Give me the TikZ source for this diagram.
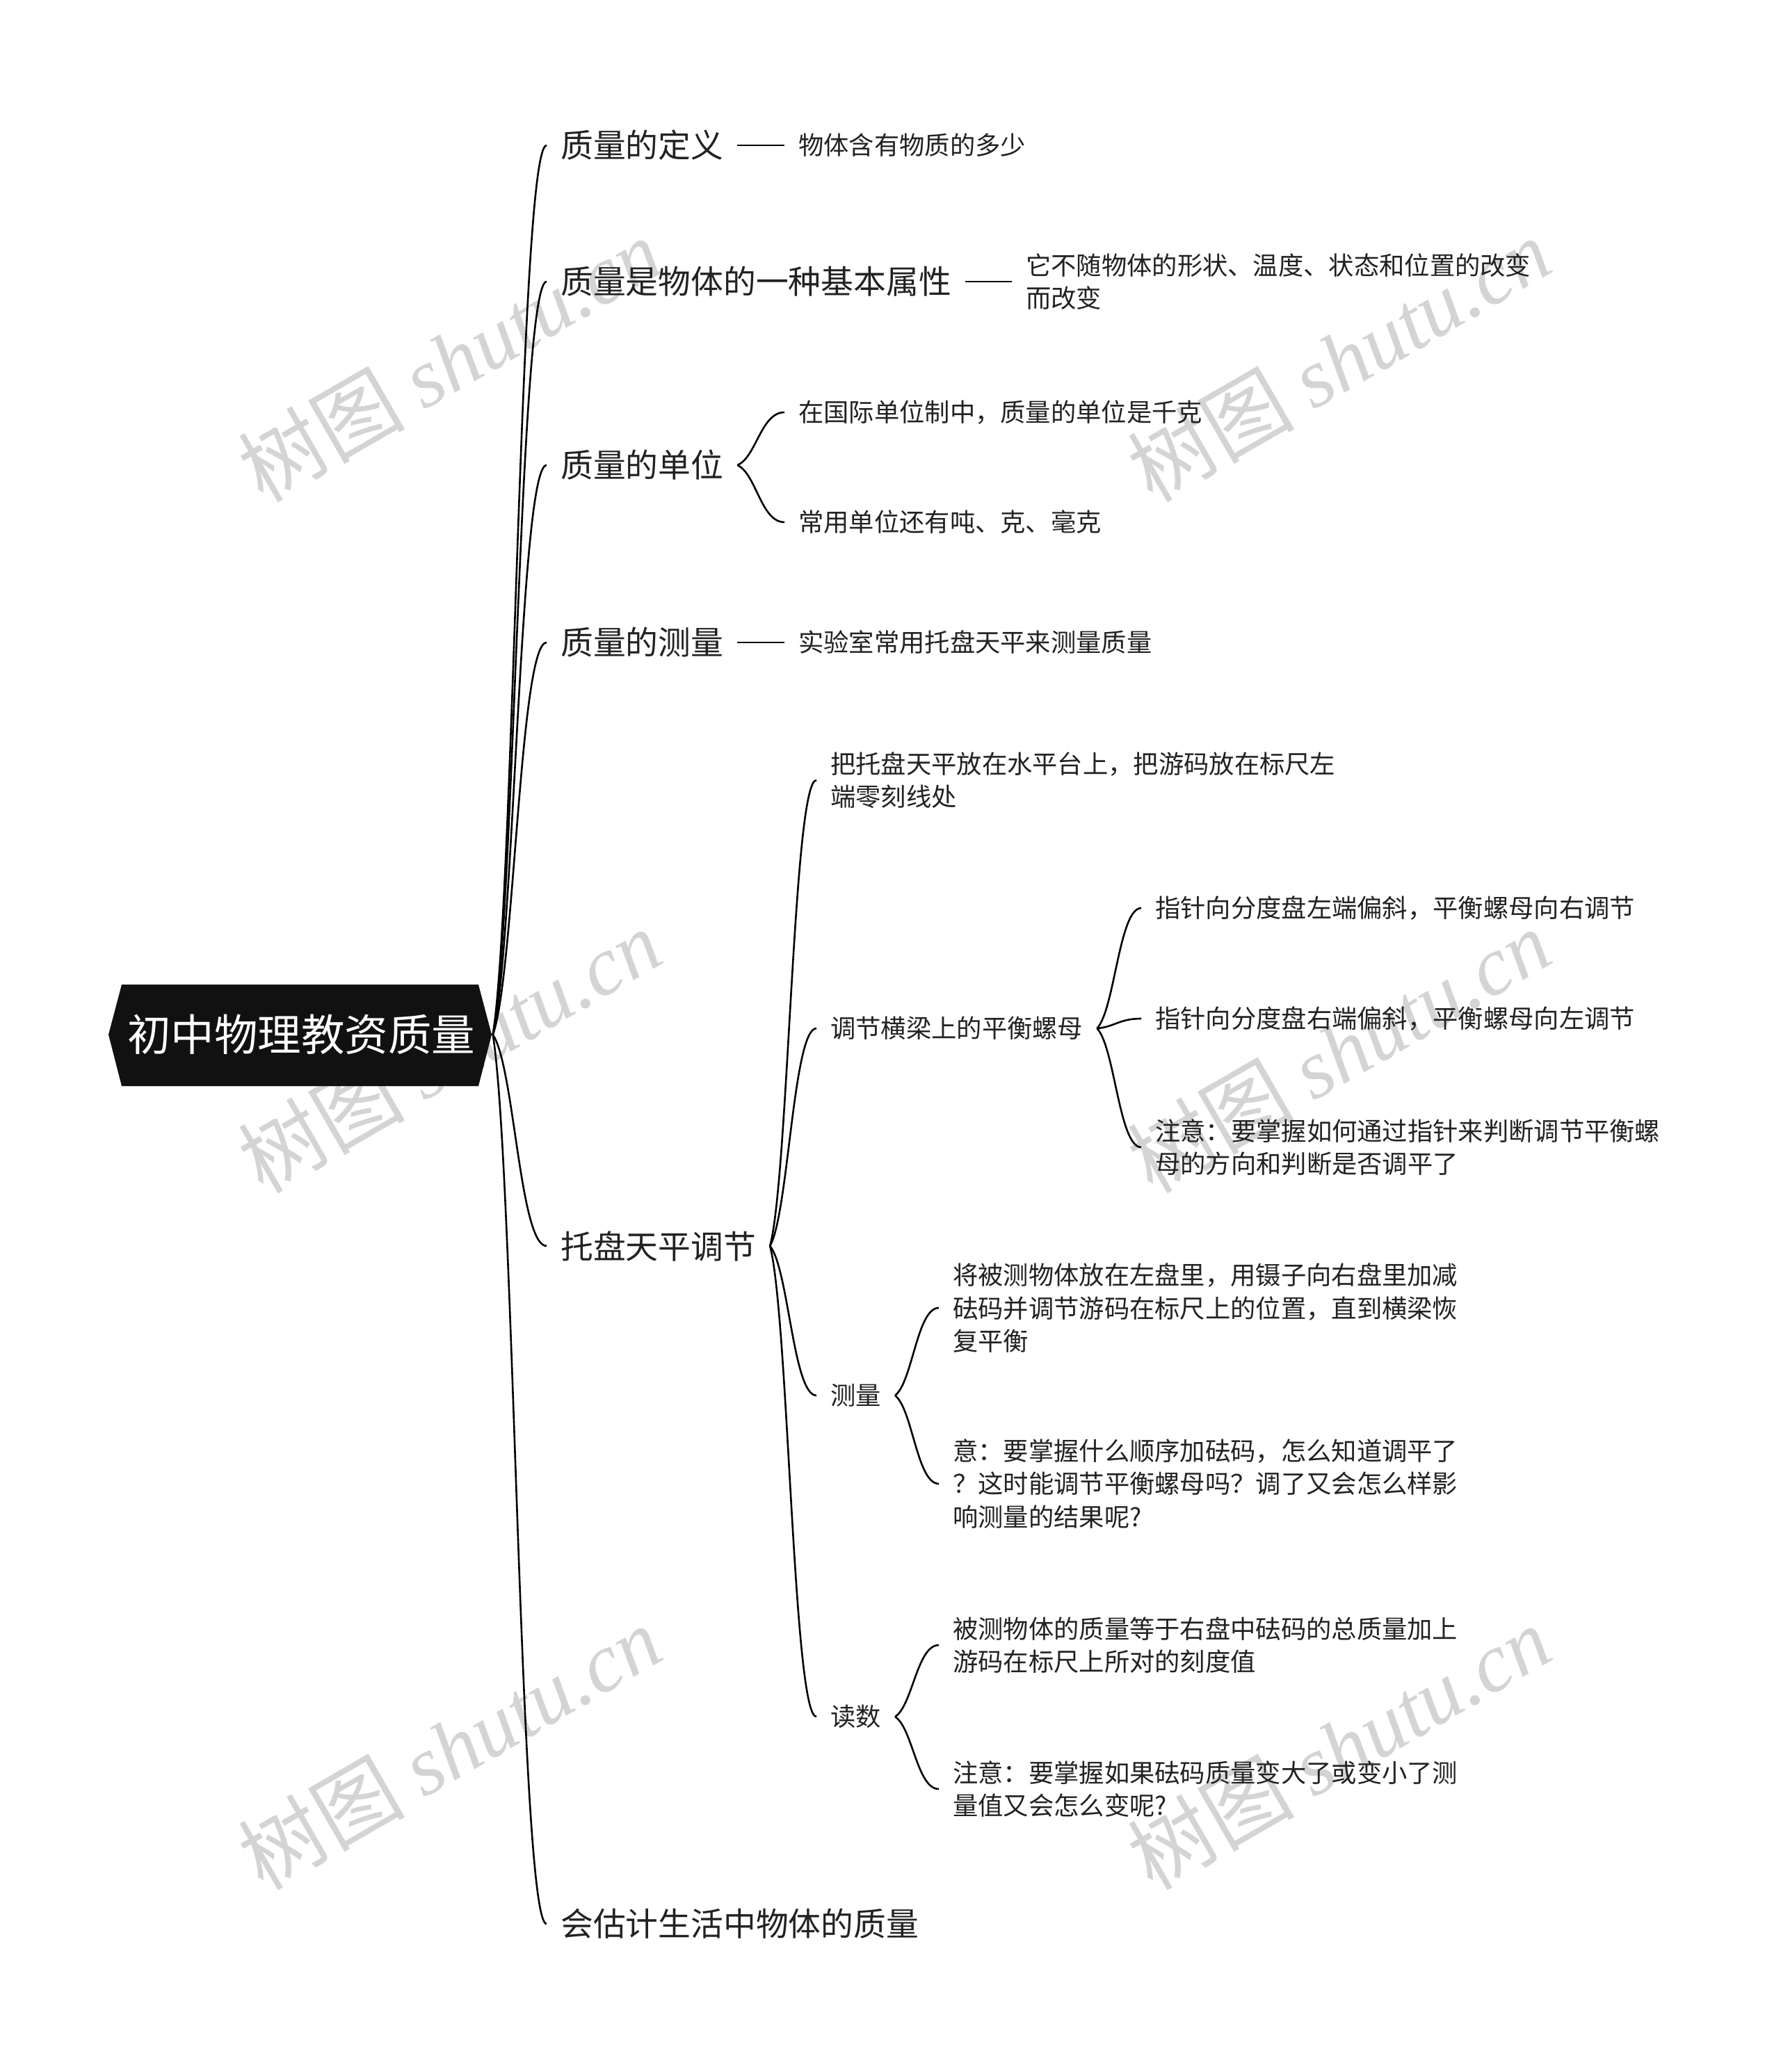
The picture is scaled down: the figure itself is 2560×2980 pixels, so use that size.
\documentclass[tikz,border=0pt]{standalone}
\usepackage{fontspec}
\setmainfont{Noto Sans CJK SC}
\newfontfamily\wmlatin{Liberation Serif}
\usetikzlibrary{calc}
\definecolor{rootfill}{HTML}{111111}
\definecolor{txt}{HTML}{222222}
\definecolor{wmgray}{HTML}{D4D4D4}
\tikzset{
  lk/.style={line width=2.6pt, draw=black},
  lone/.style={anchor=west, inner xsep=20pt, inner ysep=0pt, text=txt, font=\fontsize{46.8}{58}\selectfont},
  ltwo/.style={anchor=west, inner xsep=20pt, inner ysep=0pt, text=txt, align=left, font=\fontsize{36.3}{47.5}\selectfont},
  wm/.style={rotate=30, text=wmgray, inner sep=0pt, font=\fontsize{120}{130}\selectfont},
  curve/.style={to path={let \p1=(\tikztostart), \p2=(\tikztotarget) in
     .. controls ($(\p1)+(0.4*\x2-0.4*\x1, 0.15*\y2-0.15*\y1)$) and ($(\p2)+(0.5*\x1-0.5*\x2, 0)$) .. (\tikztotarget)}}
}
\begin{document}
\begin{tikzpicture}[x=1pt, y=-1pt]
\useasboundingbox[fill=white] (0,0) rectangle (2560,2980);

% watermarks
\node[wm] (w1) at (646,517) {树图 {\wmlatin\itshape shutu.cn}};
\node[wm] (w2) at (1925,517) {树图 {\wmlatin\itshape shutu.cn}};
\node[wm] (w3) at (646,1511) {树图 {\wmlatin\itshape shutu.cn}};
\node[wm] (w4) at (1925,1511) {树图 {\wmlatin\itshape shutu.cn}};
\node[wm] (w5) at (646,2513) {树图 {\wmlatin\itshape shutu.cn}};
\node[wm] (w6) at (1925,2513) {树图 {\wmlatin\itshape shutu.cn}};

% root
\fill[rootfill] (156,1488) -- (175,1416) -- (688,1416) -- (707,1488) -- (688,1562) -- (175,1562) -- cycle;
\node[minimum width=551pt, minimum height=146pt, inner sep=0pt, text=white, font=\fontsize{62.5}{70}\selectfont] (root) at (433,1488) {初中物理教资质量};

% level 1
\node[lone] (d1) at (786,209) {质量的定义};
\node[lone] (d2) at (786,405) {质量是物体的一种基本属性};
\node[lone] (d3) at (786,669) {质量的单位};
\node[lone] (d4) at (786,924) {质量的测量};
\node[lone] (d5) at (786,1792) {托盘天平调节};
\node[lone] (d6) at (786,2767) {会估计生活中物体的质量};

% level 2
\node[ltwo] (e1) at (1128,209) {物体含有物质的多少};
\node[ltwo] (e2) at (1455,405) {它不随物体的形状、温度、状态和位置的改变\\而改变};
\node[ltwo] (e3a) at (1128,593) {在国际单位制中，质量的单位是千克};
\node[ltwo] (e3b) at (1128,751) {常用单位还有吨、克、毫克};
\node[ltwo] (e4) at (1128,924) {实验室常用托盘天平来测量质量};
\node[ltwo] (f1) at (1174,1122) {把托盘天平放在水平台上，把游码放在标尺左\\端零刻线处};
\node[ltwo] (f2) at (1174,1479) {调节横梁上的平衡螺母};
\node[ltwo] (f3) at (1174,2007) {测量};
\node[ltwo] (f4) at (1174,2469) {读数};

% level 3
\node[ltwo] (g1) at (1641,1306) {指针向分度盘左端偏斜，平衡螺母向右调节};
\node[ltwo] (g2) at (1641,1465) {指针向分度盘右端偏斜，平衡螺母向左调节};
\node[ltwo] (g3) at (1641,1650) {注意：要掌握如何通过指针来判断调节平衡螺\\母的方向和判断是否调平了};
\node[ltwo] (h1) at (1350,1881) {将被测物体放在左盘里，用镊子向右盘里加减\\砝码并调节游码在标尺上的位置，直到横梁恢\\复平衡};
\node[ltwo] (h2) at (1350,2134) {意：要掌握什么顺序加砝码，怎么知道调平了\\？这时能调节平衡螺母吗？调了又会怎么样影\\响测量的结果呢?};
\node[ltwo] (i1) at (1350,2366) {被测物体的质量等于右盘中砝码的总质量加上\\游码在标尺上所对的刻度值};
\node[ltwo] (i2) at (1350,2573) {注意：要掌握如果砝码质量变大了或变小了测\\量值又会怎么变呢?};

% connectors
\foreach \nd in {d1,d2,d3,d4,d5,d6} \draw[lk] (root.east) to[curve] (\nd.west);
\draw[lk] (d1.east) to[curve] (e1.west);
\draw[lk] (d2.east) to[curve] (e2.west);
\draw[lk] (d3.east) to[curve] (e3a.west);
\draw[lk] (d3.east) to[curve] (e3b.west);
\draw[lk] (d4.east) to[curve] (e4.west);
\foreach \nd in {f1,f2,f3,f4} \draw[lk] (d5.east) to[curve] (\nd.west);
\foreach \nd in {g1,g2,g3} \draw[lk] (f2.east) to[curve] (\nd.west);
\foreach \nd in {h1,h2} \draw[lk] (f3.east) to[curve] (\nd.west);
\foreach \nd in {i1,i2} \draw[lk] (f4.east) to[curve] (\nd.west);
\end{tikzpicture}
\end{document}
